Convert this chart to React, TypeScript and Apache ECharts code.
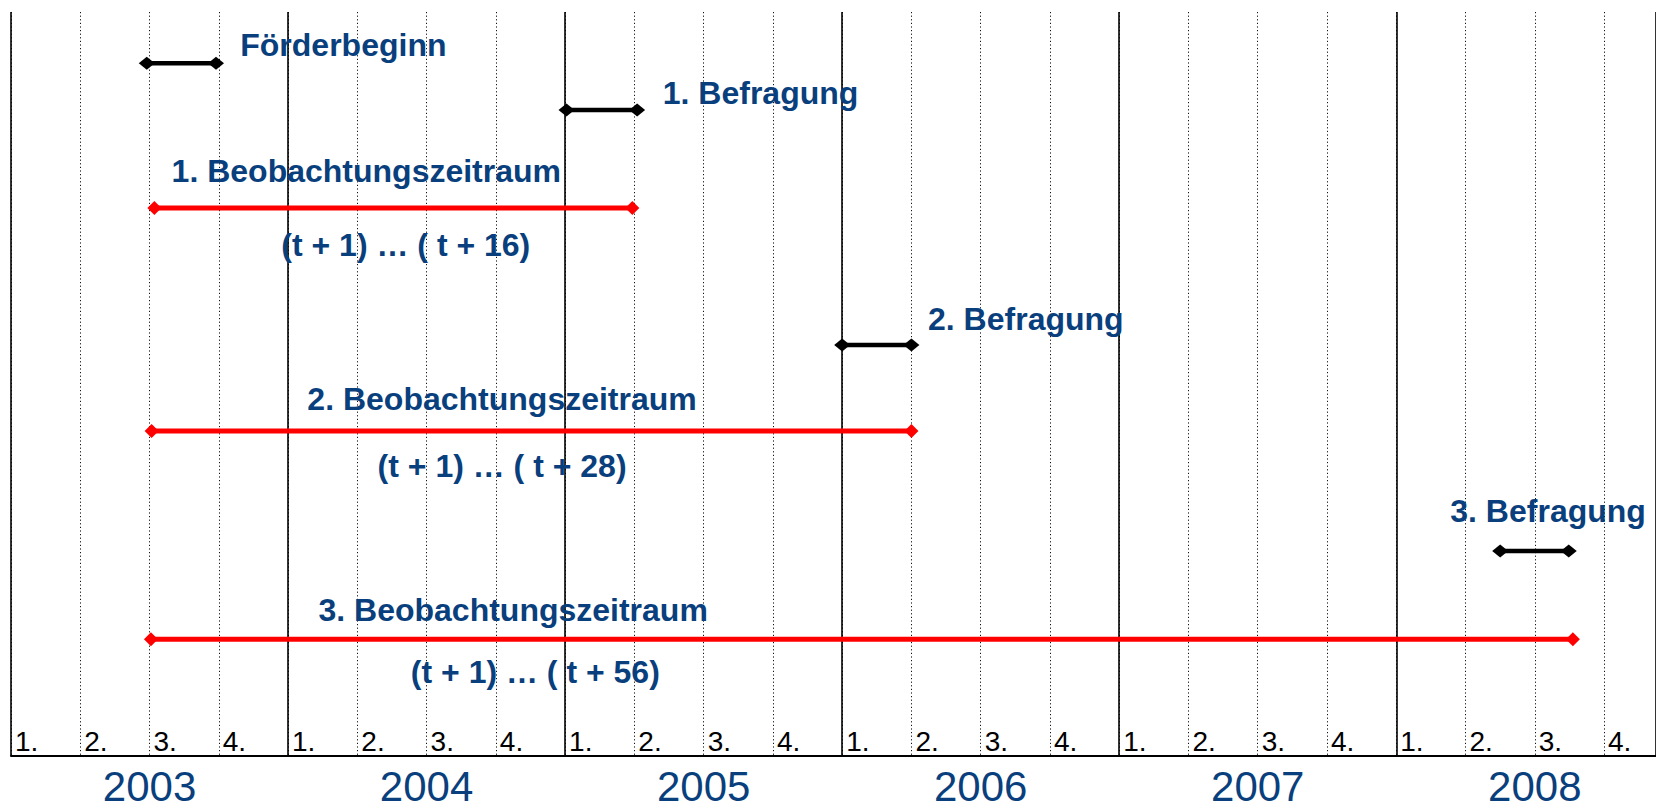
import React, { useEffect, useRef } from "react";
import * as echarts from "echarts";

// Time axis in quarters: 0 = start of 2003 Q1
const years = ["2003", "2004", "2005", "2006", "2007", "2008"];
const yearCenters = [2, 6, 10, 14, 18, 22];
const yearLabelLane = 24.98;
const quarterLabels = ["1.", "2.", "3.", "4."];
const axisMax = 23.75;

// Short events (black)
const eventNames = ["Förderbeginn", "1. Befragung", "2. Befragung", "3. Befragung"];
const eventStart = [1.96, 8.02, 12.0, 21.5];
const eventEnd = [2.96, 9.04, 13.0, 22.49];
const eventLane = [1.65, 3.16, 10.74, 17.39];
const eventLabelX = [3.31, 9.41, 13.24, 20.78];
const eventLabelLane = [1.06, 2.61, 9.9, 16.1];

// Observation periods (red)
const periodNames = ["1. Beobachtungszeitraum", "2. Beobachtungszeitraum", "3. Beobachtungszeitraum"];
const periodRanges = ["(t + 1) … ( t + 16)", "(t + 1) … ( t + 28)", "(t + 1) … ( t + 56)"];
const periodStart = [2.07, 2.03, 2.02];
const periodEnd = [8.97, 13.0, 22.55];
const periodLane = [6.32, 13.52, 20.23];
const periodLabelX = [5.13, 7.09, 7.25];
const periodLabelLane = [5.13, 12.48, 19.29];
const rangeLabelX = [5.7, 7.09, 7.57];
const rangeLabelLane = [7.52, 14.65, 21.29];

const FONT = "'Liberation Sans', Arial, sans-serif";
const BLUE = "#0a3f7d";

export default function App() {
  const ref = useRef<HTMLDivElement>(null);

  useEffect(() => {
    document.body.style.margin = "0";
    if (!ref.current) return;
    const chart = echarts.init(ref.current, undefined, { renderer: "svg" });

    const series: any[] = [];

    eventNames.forEach((name, i) => {
      series.push({
        type: "line",
        name,
        xAxisIndex: 0,
        yAxisIndex: 0,
        data: [
          [eventStart[i], eventLane[i]],
          [eventEnd[i], eventLane[i]],
        ],
        symbol: "diamond",
        symbolSize: [16, 13],
        showSymbol: true,
        itemStyle: { color: "#000", opacity: 1 },
        lineStyle: { color: "#000", width: 4.5 },
        silent: true,
        z: 5,
      });
    });

    periodNames.forEach((name, i) => {
      series.push({
        type: "line",
        name,
        xAxisIndex: 0,
        yAxisIndex: 0,
        data: [
          [periodStart[i], periodLane[i]],
          [periodEnd[i], periodLane[i]],
        ],
        symbol: "diamond",
        symbolSize: [14, 14],
        showSymbol: true,
        itemStyle: { color: "#ff0000", opacity: 1 },
        lineStyle: { color: "#ff0000", width: 5 },
        silent: true,
        z: 5,
      });
    });

    const labelStyle = {
      show: true,
      color: BLUE,
      opacity: 1,
      fontFamily: FONT,
      fontWeight: "bold",
      fontSize: 32,
      textBorderWidth: 0,
      textBorderColor: "transparent",
      textShadowBlur: 0,
    };

    const labelData: any[] = [];
    eventNames.forEach((name, i) => {
      labelData.push({
        value: [eventLabelX[i], eventLabelLane[i]],
        label: { ...labelStyle, formatter: name, position: [0, 0], align: "left", verticalAlign: "middle" },
      });
    });
    periodNames.forEach((name, i) => {
      labelData.push({
        value: [periodLabelX[i], periodLabelLane[i]],
        label: { ...labelStyle, formatter: name, position: [0, 0], align: "center", verticalAlign: "middle" },
      });
      labelData.push({
        value: [rangeLabelX[i], rangeLabelLane[i]],
        label: { ...labelStyle, formatter: periodRanges[i], position: [0, 0], align: "center", verticalAlign: "middle" },
      });
    });
    years.forEach((y, i) => {
      labelData.push({
        value: [yearCenters[i], yearLabelLane],
        label: {
          ...labelStyle,
          fontWeight: "normal",
          fontSize: 42,
          lineHeight: 38,
          formatter: y,
          position: [0, 0],
          align: "center",
          verticalAlign: "middle",
        },
      });
    });

    series.push({
      type: "scatter",
      xAxisIndex: 0,
      yAxisIndex: 0,
      symbolSize: 0,
      itemStyle: { color: "rgba(0,0,0,0)", opacity: 1 },
      data: labelData,
      clip: false,
      silent: true,
      z: 10,
    });

    chart.setOption({
      animation: false,
      backgroundColor: "#fff",
      grid: {
        left: 11,
        right: 0,
        top: 12,
        bottom: 53,
        containLabel: false,
        outerBoundsMode: "none",
      },
      xAxis: [
        {
          type: "value",
          position: "bottom",
          min: 0,
          max: axisMax,
          interval: 1,
          axisLine: { show: true, onZero: false, lineStyle: { color: "#000", width: 2 } },
          axisTick: { show: false },
          splitLine: { show: true, lineStyle: { color: "#111", width: 1, type: [1.2, 2.4] } },
          axisLabel: {
            show: true,
            inside: true,
            showMinLabel: true,
            showMaxLabel: false,
            hideOverlap: false,
            align: "left",
            verticalAlign: "bottom",
            margin: 1,
            padding: [0, 0, 0, 4],
            fontSize: 28,
            lineHeight: 28,
            color: "#000",
            fontFamily: FONT,
            formatter: (v: number) => (Number.isInteger(v) ? quarterLabels[v % 4] : ""),
          },
          z: 3,
        },
        {
          type: "value",
          position: "bottom",
          min: 0,
          max: axisMax,
          interval: 4,
          axisLine: { show: false },
          axisTick: { show: false },
          axisLabel: { show: false },
          splitLine: { show: true, lineStyle: { color: "#000", width: 1.6, type: "solid" } },
          z: 4,
        },
      ],
      yAxis: [
        {
          type: "value",
          min: 0,
          max: 24,
          inverse: true,
          show: false,
          splitLine: { show: false },
        },
      ],
      series,
    });

    return () => {
      chart.dispose();
    };
  }, []);

  return <div ref={ref} style={{ width: 1656, height: 809 }} />;
}
